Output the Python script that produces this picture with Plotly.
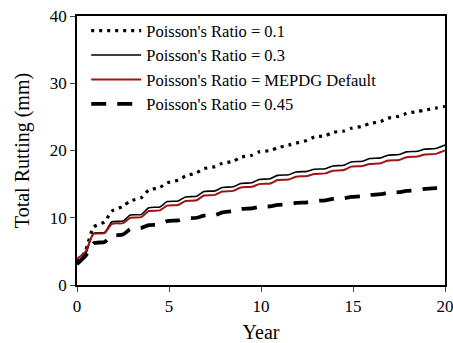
import plotly.graph_objects as go

years = [0, 0.45, 0.9, 1.5, 1.9, 2.5, 2.9, 3.5, 3.9, 4.5, 4.9, 5.5, 5.9, 6.5, 6.9,
         7.5, 7.9, 8.5, 8.9, 9.5, 9.9, 10.5, 10.9, 11.5, 11.9, 12.5, 12.9, 13.5, 13.9,
         14.5, 14.9, 15.5, 15.9, 16.5, 16.9, 17.5, 17.9, 18.5, 18.9, 19.5, 19.9, 20.0]

pr_01 = [3.4, 5.0, 8.6, 9.4, 11.0, 11.7, 12.5, 13.0, 14.1, 14.5, 15.2, 15.6, 16.2, 16.7, 17.3,
         17.6, 18.1, 18.4, 19.0, 19.3, 19.8, 20.0, 20.4, 20.8, 21.1, 21.5, 22.0, 22.2, 22.7,
         22.9, 23.3, 23.6, 24.0, 24.3, 24.8, 25.1, 25.5, 25.8, 26.0, 26.3, 26.5, 26.6]

pr_03 = [3.5, 4.5, 7.7, 7.8, 9.4, 9.5, 10.4, 10.5, 11.5, 11.6, 12.4, 12.5, 13.1, 13.2, 13.9,
         14.0, 14.5, 14.6, 15.1, 15.2, 15.7, 15.8, 16.3, 16.4, 16.8, 16.9, 17.2, 17.3, 17.7,
         17.8, 18.3, 18.4, 18.8, 18.9, 19.3, 19.4, 19.8, 19.9, 20.2, 20.3, 20.7, 20.8]

pr_mepdg = [3.9, 4.9, 7.6, 7.7, 9.1, 9.2, 10.0, 10.1, 11.0, 11.1, 11.8, 11.9, 12.5, 12.6, 13.3,
            13.4, 13.9, 14.0, 14.5, 14.6, 15.0, 15.1, 15.6, 15.7, 16.1, 16.2, 16.5, 16.6, 17.0,
            17.1, 17.6, 17.7, 18.0, 18.1, 18.5, 18.6, 19.0, 19.1, 19.4, 19.5, 19.9, 20.0]

pr_045 = [3.1, 4.3, 6.2, 6.4, 7.3, 7.5, 8.3, 8.5, 8.9, 9.0, 9.5, 9.6, 9.9, 10.0, 10.3,
          10.4, 10.8, 11.0, 11.3, 11.4, 11.6, 11.7, 11.9, 12.0, 12.2, 12.3, 12.5, 12.6, 12.8,
          12.9, 13.1, 13.2, 13.4, 13.5, 13.7, 13.8, 14.0, 14.1, 14.3, 14.4, 14.5, 14.5]

names = ["Poisson's Ratio = 0.1", "Poisson's Ratio = 0.3",
         "Poisson's Ratio = MEPDG Default", "Poisson's Ratio = 0.45"]

x_ticks = [0, 5, 10, 15, 20]
y_ticks = [0, 10, 20, 30, 40]

FONT = "Liberation Serif"

fig = go.Figure()
fig.add_trace(go.Scatter(x=years, y=pr_01, name=names[0], mode="lines",
                         line=dict(color="black", width=3.2, dash="3px,5px", shape="spline", smoothing=0.6)))
fig.add_trace(go.Scatter(x=years, y=pr_03, name=names[1], mode="lines",
                         line=dict(color="black", width=1.6, shape="spline", smoothing=0.6)))
fig.add_trace(go.Scatter(x=years, y=pr_mepdg, name=names[2], mode="lines",
                         line=dict(color="#a01414", width=2, shape="spline", smoothing=0.6)))
fig.add_trace(go.Scatter(x=years, y=pr_045, name=names[3], mode="lines",
                         line=dict(color="black", width=3.8, dash="15px,11px", shape="spline", smoothing=0.6)))

fig.update_layout(
    width=453, height=343,
    margin=dict(l=77, r=8, t=16, b=58),
    paper_bgcolor="white", plot_bgcolor="white",
    font=dict(family=FONT, size=17, color="black"),
    showlegend=True,
    legend=dict(x=0.025, y=1.01, xanchor="left", yanchor="top",
                bgcolor="rgba(0,0,0,0)", font=dict(size=16.5, family=FONT, color="black"),
                tracegroupgap=0, itemwidth=50),
    xaxis=dict(range=[0, 20], tickvals=x_ticks, ticks="outside", ticklen=5,
               showline=True, linecolor="black", linewidth=1.5, mirror=True,
               showgrid=False, zeroline=False, tickfont=dict(size=17, family=FONT),
               automargin=False, ticklabeloverflow="allow",
               title=dict(text="Year", font=dict(size=20, family=FONT))),
    yaxis=dict(range=[0, 40], tickvals=y_ticks, ticks="outside", ticklen=5,
               showline=True, linecolor="black", linewidth=1.5, mirror=True,
               showgrid=False, zeroline=False, tickfont=dict(size=17, family=FONT),
               automargin=False, ticklabeloverflow="allow",
               title=dict(text="Total Rutting (mm)", font=dict(size=20, family=FONT))),
)

fig.write_html("out.html", config={"displayModeBar": False},
               post_script="document.body.style.margin='0';")
